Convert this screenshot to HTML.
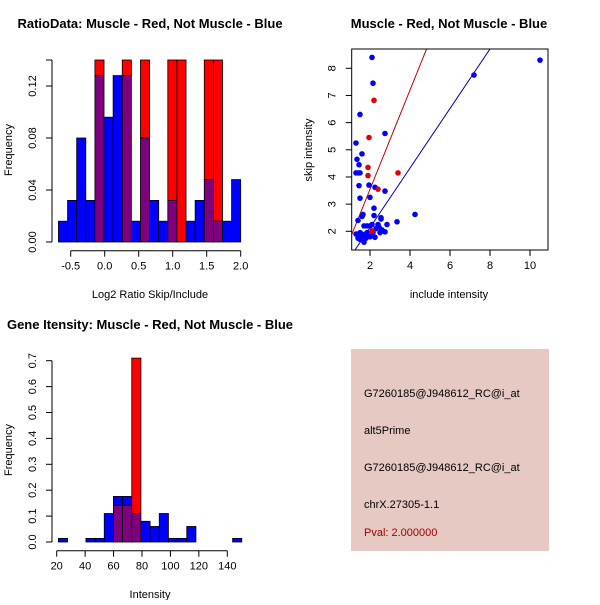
<!DOCTYPE html>
<html><head><meta charset="utf-8"><style>
body{margin:0;background:#fff;width:600px;height:600px;overflow:hidden}
svg{font-family:"Liberation Sans",sans-serif}
</style></head><body>
<svg id="root" width="600" height="600" viewBox="0 0 600 600">
<rect x="351" y="349" width="198" height="202" fill="#e6c9c3"/>
<g font-size="11" fill="#000">
<text x="364" y="397">G7260185@J948612_RC@i_at</text>
<text x="364" y="434">alt5Prime</text>
<text x="364" y="471">G7260185@J948612_RC@i_at</text>
<text x="364" y="508">chrX.27305-1.1</text>
<text x="364" y="536" fill="#a00000">Pval: 2.000000</text>
</g>
</svg>
<script>
// ---- Chart 1: ratio histogram ----
const h1Blue=[0.016,0.032,0.08,0.032,0.128,0.096,0.128,0.128,0.016,0.08,0.032,0.016,0.032,0,0.016,0.032,0.048,0.016,0.016,0.048];
const h1Red=[0,0,0,0,0.14,0,0,0.14,0,0.14,0,0,0.14,0.14,0,0,0.14,0.14,0,0];
const h1Start=-0.68, h1Bin=0.134;
const h1XTicks=[-0.5,0,0.5,1,1.5,2];
const h1XLabels=["-0.5","0.0","0.5","1.0","1.5","2.0"];
const h1YTicks=[0,0.04,0.08,0.12];
const h1YLabels=["0.00","0.04","0.08","0.12"];
// ---- Chart 2: scatter ----
const scBlueX=[2.1,2.15,10.5,7.2,1.5,2.75,1.3,1.6,1.35,1.45,1.3,1.4,1.5,1.45,1.95,2.25,2.75,1.5,2.0,2.2,4.25,1.6,1.65,2.2,2.55,2.55,3.35,1.4,2.85,1.7,1.85,2.0,2.1,2.4,2.45,2.3,2.6,1.3,1.5,1.6,1.75,1.9,1.4,1.5,1.65,1.7,1.8,2.0,2.25,2.5,2.75,1.55,1.85,2.15];
const scBlueY=[8.4,7.45,8.3,7.75,6.3,5.6,5.25,4.85,4.65,4.45,4.15,4.15,4.15,3.68,3.7,3.62,3.48,3.22,3.25,2.85,2.62,2.55,2.62,2.58,2.5,2.45,2.35,2.4,2.25,2.2,2.2,2.2,2.25,2.25,2.15,2.1,2.05,1.9,1.95,1.9,1.85,1.85,1.75,1.7,1.8,1.6,1.75,1.8,1.78,1.95,1.98,1.85,1.95,1.95];
const scRedX=[2.2,1.95,1.9,1.9,3.4,2.4,2.1];
const scRedY=[6.82,5.45,4.35,4.05,4.15,3.55,2.02];
const scRedLine=[-0.107,1.826];
const scBlueLine=[-0.057,1.096];
const scXTicks=[2,4,6,8,10];
const scYTicks=[2,3,4,5,6,7,8];
// ---- Chart 3: intensity histogram ----
const h3Blue=[0.014,0,0,0.014,0.014,0.11,0.176,0.176,0.11,0.08,0.06,0.11,0.014,0.014,0.06,0,0,0,0,0.014];
const h3Red=[0,0,0,0,0,0,0.142,0.142,0.71,0,0,0,0,0,0,0,0,0,0,0];
const h3Start=21.2, h3Bin=6.45;
const h3XTicks=[20,40,60,80,100,120,140];
const h3YTicks=[0,0.1,0.2,0.3,0.4,0.5,0.6,0.7];
const h3YLabels=["0.0","0.1","0.2","0.3","0.4","0.5","0.6","0.7"];

const NS="http://www.w3.org/2000/svg";
const root=document.getElementById('root');
function mk(tag,attrs,parent){const e=document.createElementNS(NS,tag);for(const k in attrs)e.setAttribute(k,attrs[k]);(parent||root).appendChild(e);return e;}
function txt(s,x,y,attrs,parent){const t=mk('text',Object.assign({x:x,y:y},attrs),parent);t.textContent=s;return t;}

function hist(g,blue,red,start,bin,sx,sy,yMax){
  for(let i=0;i<blue.length;i++){
    const x0=sx(start+i*bin),x1=sx(start+(i+1)*bin);
    const b=blue[i],r=Math.min(red[i],yMax),ov=Math.min(b,r);
    if(r>ov){const e=mk('rect',{x:x0,y:sy(r),width:x1-x0,height:sy(ov)-sy(r),fill:'#ff0000',stroke:'#000','stroke-width':0.8},g);
      
      }
    if(b>ov){const e=mk('rect',{x:x0,y:sy(b),width:x1-x0,height:sy(ov)-sy(b),fill:'#0000ff',stroke:'#000','stroke-width':0.8},g);
      
      }
    if(ov>0){const e=mk('rect',{x:x0,y:sy(ov),width:x1-x0,height:sy(0)-sy(ov),fill:'#7f007f',stroke:'#000','stroke-width':0.8},g);
      
      }
  }
}
function xAxis(g,ticks,labels,sx,y){
  mk('line',{x1:sx(ticks[0]),x2:sx(ticks[ticks.length-1]),y1:y,y2:y,stroke:'#000'},g);
  ticks.forEach((t,i)=>{mk('line',{x1:sx(t),x2:sx(t),y1:y,y2:y+6,stroke:'#000'},g);
    const l=txt(labels[i],sx(t),y+19,{'font-size':11,'text-anchor':'middle'},g);
    
    });
}
function yAxis(g,ticks,labels,sy,x){
  mk('line',{x1:x,x2:x,y1:sy(ticks[0]),y2:sy(ticks[ticks.length-1]),stroke:'#000'},g);
  ticks.forEach((t,i)=>{mk('line',{x1:x,x2:x-6,y1:sy(t),y2:sy(t),stroke:'#000'},g);
    const l=txt(labels[i],x-16,sy(t),{'font-size':11,'text-anchor':'middle',transform:`rotate(-90 ${x-16} ${sy(t)})`},g);
    
    });
}

// Chart 1
{const g=mk('g',{});


const sx=v=>70.7+(v+0.5)*68, sy=v=>242-v*1300;
hist(g,h1Blue,h1Red,h1Start,h1Bin,sx,sy,0.14);
xAxis(g,h1XTicks,h1XLabels,sx,250.7);
yAxis(g,h1YTicks.concat([0.14]),h1YLabels.concat([""]),sy,52);
const t=txt('RatioData: Muscle - Red, Not Muscle - Blue',150,28,{'font-size':13,'font-weight':'bold','text-anchor':'middle'},g);


const xl=txt('Log2 Ratio Skip/Include',150,298,{'font-size':11,'text-anchor':'middle'},g);


const yl=txt('Frequency',12,150,{'font-size':11,'text-anchor':'middle',transform:'rotate(-90 12 150)'},g);

}

// Chart 2
{const g=mk('g',{});


const sx=v=>370+(v-2)*20, sy=v=>231.3-(v-2)*27.17;
const L=351.7,R=548,T=49,B=250;
const cp=mk('clipPath',{id:'clip2'},g);
mk('rect',{x:L,y:T,width:R-L,height:B-T},cp);
const lg=mk('g',{'clip-path':'url(#clip2)'},g);
[[scRedLine,'#c00000','red-fit-line'],[scBlueLine,'#0000b0','blue-fit-line']].forEach(([c,col,n])=>{
  const x0=0.5,x1=12;const e=mk('line',{x1:sx(x0),y1:sy(c[0]+c[1]*x0),x2:sx(x1),y2:sy(c[0]+c[1]*x1),stroke:col,'stroke-width':1},lg);
  
  });
scBlueX.forEach((x,i)=>{const e=mk('circle',{cx:sx(x),cy:sy(scBlueY[i]),r:2.8,fill:'#0000ff'},g);
  
  });
scRedX.forEach((x,i)=>{const e=mk('circle',{cx:sx(x),cy:sy(scRedY[i]),r:2.8,fill:'#e00000'},g);
  
  });
mk('rect',{x:L,y:T,width:R-L,height:B-T,fill:'none',stroke:'#000'},g);
scXTicks.forEach(t=>{mk('line',{x1:sx(t),x2:sx(t),y1:B,y2:B+6,stroke:'#000'},g);
  const l=txt(String(t),sx(t),B+19,{'font-size':11,'text-anchor':'middle'},g);
  
  });
scYTicks.forEach(t=>{mk('line',{x1:L,x2:L-6,y1:sy(t),y2:sy(t),stroke:'#000'},g);
  const l=txt(String(t),L-16,sy(t),{'font-size':11,'text-anchor':'middle',transform:`rotate(-90 ${L-16} ${sy(t)})`},g);
  
  });
const t=txt('Muscle - Red, Not Muscle - Blue',449,28,{'font-size':13,'font-weight':'bold','text-anchor':'middle'},g);


const xl=txt('include intensity',449,298,{'font-size':11,'text-anchor':'middle'},g);


const yl=txt('skip intensity',312,150,{'font-size':11,'text-anchor':'middle',transform:'rotate(-90 312 150)'},g);

}

// Chart 3
{const g=mk('g',{});


const sx=v=>56.7+(v-20)*1.4215, sy=v=>542-v*259;
hist(g,h3Blue,h3Red,h3Start,h3Bin,sx,sy,1);
xAxis(g,h3XTicks,h3XTicks.map(String),sx,550.7);
yAxis(g,h3YTicks,h3YLabels,sy,52);
const t=txt('Gene Itensity: Muscle - Red, Not Muscle - Blue',150,329,{'font-size':13,'font-weight':'bold','text-anchor':'middle'},g);


const xl=txt('Intensity',150,598,{'font-size':11,'text-anchor':'middle'},g);


const yl=txt('Frequency',12,450,{'font-size':11,'text-anchor':'middle',transform:'rotate(-90 12 450)'},g);

}
</script>
</body></html>
